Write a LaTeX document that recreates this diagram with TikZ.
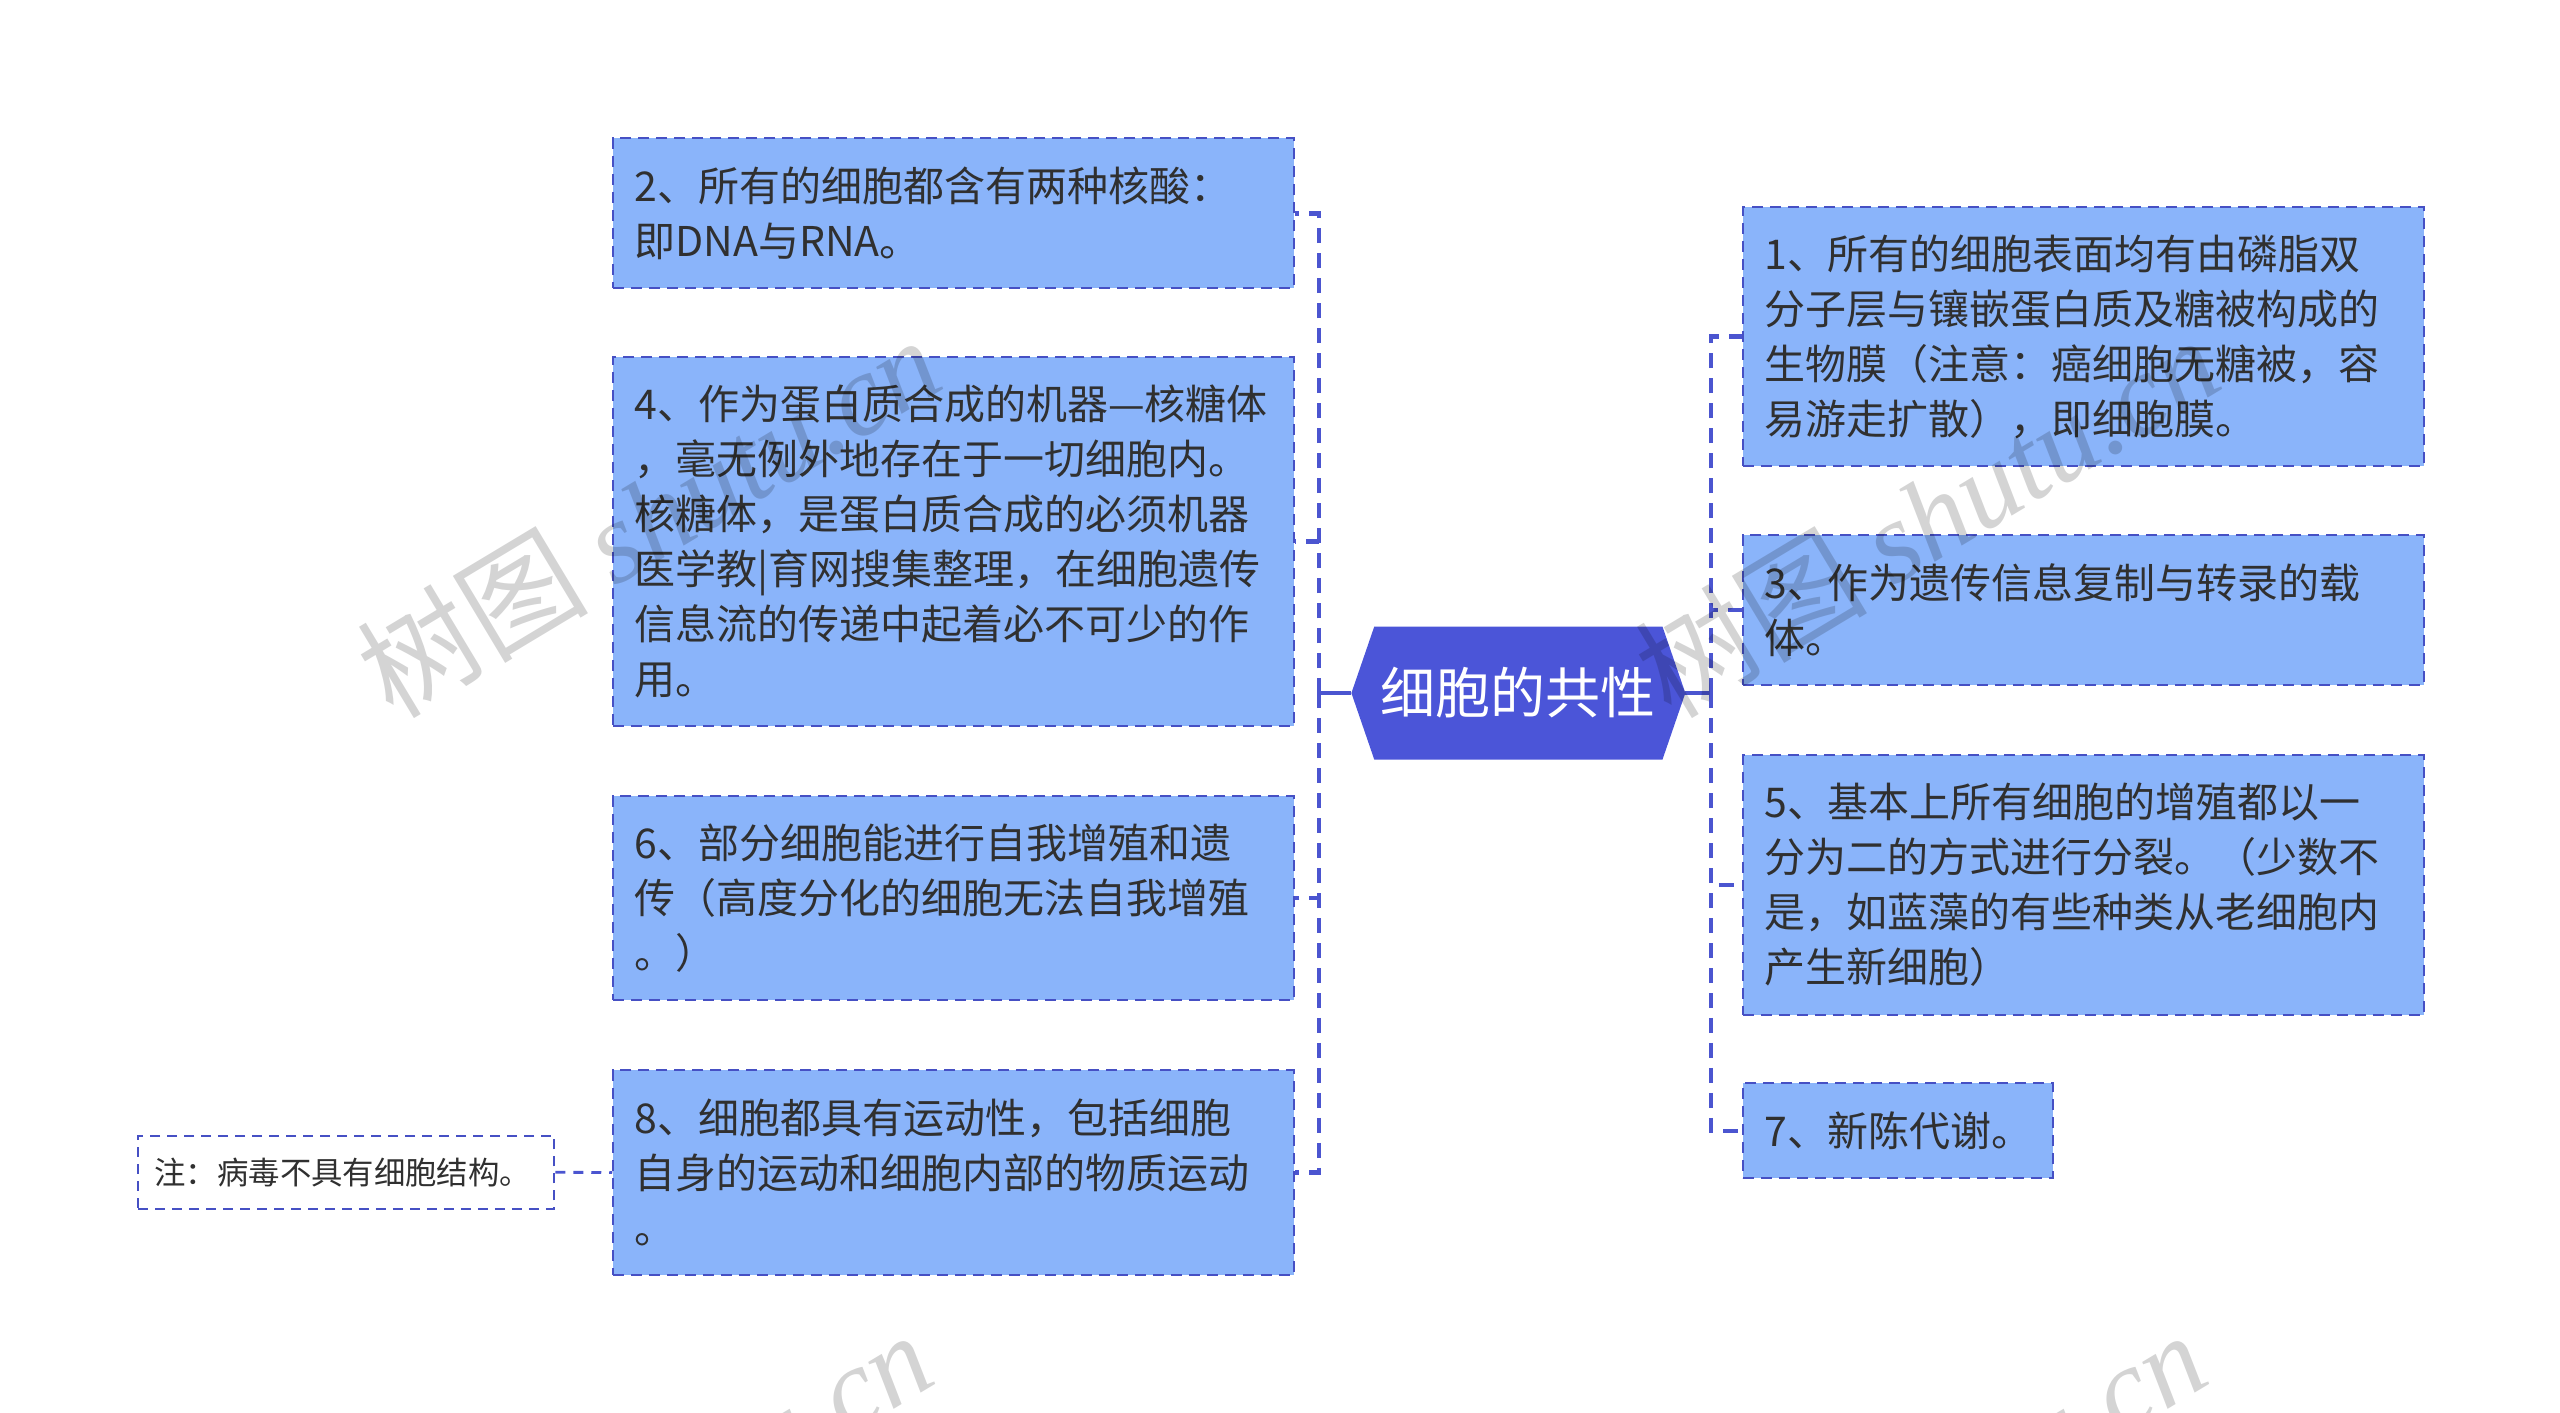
\documentclass[tikz,border=0pt]{standalone}
\usepackage{fontspec}
\setmainfont{Noto Sans CJK SC}
\newfontfamily\wmlatin{Liberation Serif}
\usetikzlibrary{calc}
\definecolor{boxc}{HTML}{8AB4FA}
\definecolor{bordc}{HTML}{4650C4}
\definecolor{connc}{HTML}{4B55D0}
\definecolor{centc}{HTML}{4B55D8}
\definecolor{txtc}{HTML}{303030}
\begin{document}
\begin{tikzpicture}[x=0.8165pt,y=-0.8165pt,
  box/.style={draw=bordc, fill=boxc, line width=1pt, dash pattern=on 5.5pt off 3.5pt,
    inner xsep=10.6pt, inner ysep=0pt, text width=319.3pt, align=left,
    font=\fontsize{20.5pt}{27.5pt}\selectfont, text=txtc},
  notebox/.style={draw=bordc, fill=white, line width=0.9pt, dash pattern=on 5pt off 3.5pt,
    inner xsep=8.2pt, inner ysep=0pt, minimum width=208.2pt, minimum height=36.7pt,
    font=\fontsize{15.7pt}{20pt}\selectfont, text=txtc},
  conn/.style={draw=connc, line width=2.3pt, dash pattern=on 7.5pt off 5pt},
  stub/.style={draw=connc, line width=2.3pt},
  wm/.style={font=\fontsize{58pt}{58pt}\selectfont, text=black, opacity=0.17, rotate=31}
]
\useasboundingbox (0,0) rectangle (1568,865);

% centre node
\node[minimum width=166.6pt, minimum height=66.1pt, inner sep=0pt] (c) at (930,424.5) {};
\fill[centc] (c.west) -- ($(c.north west)+(14,0)$) -- ($(c.north east)+(-14,0)$)
  -- (c.east) -- ($(c.south east)+(-14,0)$) -- ($(c.south west)+(14,0)$) -- cycle;
\node[text=white, font=\fontsize{27.5pt}{30pt}\selectfont] (ct) at (c.center) {细胞的共性};

% left boxes
\node[box, anchor=north west, minimum height=75.1pt] (b2) at (375,84)
  {2、所有的细胞都含有两种核酸：\\即DNA与RNA。};
\node[box, anchor=north west, minimum height=184.5pt] (b4) at (375,218)
  {4、作为蛋白质合成的机器—核糖体\\，毫无例外地存在于一切细胞内。\\核糖体，是蛋白质合成的必须机器\\医学教|育网搜集整理，在细胞遗传\\信息流的传递中起着必不可少的作\\用。};
\node[box, anchor=north west, minimum height=102.1pt] (b6) at (375,487)
  {6、部分细胞能进行自我增殖和遗\\传（高度分化的细胞无法自我增殖\\。）};
\node[box, anchor=north west, minimum height=102.1pt] (b8) at (375,655)
  {8、细胞都具有运动性，包括细胞\\自身的运动和细胞内部的物质运动\\。};
\node[notebox, anchor=north west, text width=191.8pt, align=left] (n) at (84,695)
  {注：病毒不具有细胞结构。};

% right boxes
\node[box, anchor=north west, minimum height=129.8pt] (b1) at (1067,126)
  {1、所有的细胞表面均有由磷脂双\\分子层与镶嵌蛋白质及糖被构成的\\生物膜（注意：癌细胞无糖被，容\\易游走扩散），即细胞膜。};
\node[box, anchor=north west, minimum height=75.1pt] (b3) at (1067,327)
  {3、作为遗传信息复制与转录的载\\体。};
\node[box, anchor=north west, minimum height=129.8pt] (b5) at (1067,462)
  {5、基本上所有细胞的增殖都以一\\分为二的方式进行分裂。（少数不\\是，如蓝藻的有些种类从老细胞内\\产生新细胞）};
\node[box, anchor=north west, minimum height=47.4pt, text width=133.9pt] (b7) at (1067,663)
  {7、新陈代谢。};

% connectors
\coordinate (jl) at (808,424.5);
\coordinate (jr) at (1048,424.5);
\draw[stub] (c.west) -- (jl);
\draw[stub] (c.east) -- (jr);
\draw[conn] (jl) |- (b2.east);
\draw[conn] (jl) |- (b4.east);
\draw[conn] (jl) |- (b6.east);
\draw[conn] (jl) |- (b8.east);
\draw[conn] (jr) |- (b1.west);
\draw[conn] (jr) |- (b3.west);
\draw[conn] (jr) |- (b5.west);
\draw[conn] (jr) |- (b7.west);
\draw[conn, line width=1.4pt, dash pattern=on 5pt off 4pt] (n.east) -- (b8.west);

% watermarks
\begin{scope}
\clip (0,0) rectangle (1568,865);
\node[wm] (w1) at (397,316) {树图 {\wmlatin\itshape shutu.cn}};
\node[wm] (w2) at (1180,316) {树图 {\wmlatin\itshape shutu.cn}};
\node[wm] (w3) at (392,925) {树图 {\wmlatin\itshape shutu.cn}};
\node[wm] (w4) at (1172,925) {树图 {\wmlatin\itshape shutu.cn}};
\end{scope}
\end{tikzpicture}
\end{document}
